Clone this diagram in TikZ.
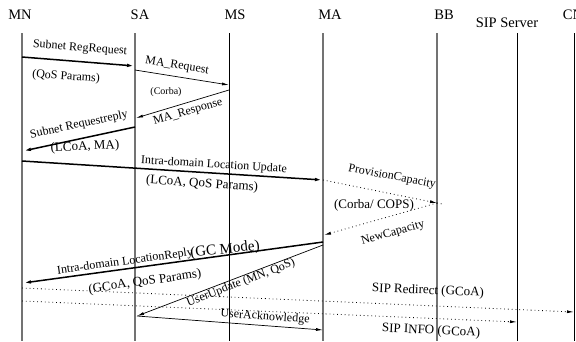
\documentclass[tikz,border=0pt]{standalone}
\usepackage{fontspec}
\setmainfont{Liberation Serif}
\usetikzlibrary{arrows.meta}
\begin{document}
\begin{tikzpicture}[x=1pt,y=-1pt,
  hdr/.style={font=\fontsize{14.5}{16}\selectfont, inner sep=0pt},
  lbl/.style={font=\fontsize{12}{13}\selectfont, inner sep=0pt},
  midlbl/.style={font=\fontsize{13}{14}\selectfont, inner sep=0pt},
  smalllbl/.style={font=\fontsize{10}{11}\selectfont, inner sep=0pt},
  biglbl/.style={font=\fontsize{15}{16}\selectfont, inner sep=0pt},
  lifeg/.style={draw=black!55, line width=1.1pt},
  lifeb/.style={draw=black, line width=0.8pt},
  thickmsg/.style={line width=1.5pt, -{Latex[length=8pt,width=3.5pt]}},
  thinmsg/.style={line width=0.7pt, -{Latex[length=7pt,width=3pt]}},
  dotmsg/.style={line width=0.8pt, dash pattern=on 0.8pt off 3pt, -{Latex[length=7pt,width=3pt]}}]
\useasboundingbox (0,0) rectangle (576,341);
\fill[white] (0,0) rectangle (576,341);
% headers
\node[hdr] (hMN) at (20,15) {MN};
\node[hdr] (hSA) at (140,15) {SA};
\node[hdr] (hMS) at (235,15) {MS};
\node[hdr] (hMA) at (330,15) {MA};
\node[hdr] (hBB) at (444,15) {BB};
\node[hdr] (hSIP) at (507,23) {SIP Server};
\node[hdr] (hCN) at (573,15) {CN};
% lifelines
\coordinate (tMN) at (22,33);  \coordinate (bMN) at (22,341);
\coordinate (tSA) at (135,33); \coordinate (bSA) at (135,341);
\coordinate (tMS) at (229,33); \coordinate (bMS) at (229,341);
\coordinate (tMA) at (323,33); \coordinate (bMA) at (323,341);
\coordinate (tBB) at (437,33); \coordinate (bBB) at (437,341);
\coordinate (tSIP) at (517,33); \coordinate (bSIP) at (517,341);
\coordinate (tCN) at (574,33); \coordinate (bCN) at (574,341);
\draw[lifeg] (tMN) -- (bMN);
\draw[lifeg] (tSA) -- (bSA);
\draw[lifeb] (tMS) -- (bMS);
\draw[lifeg] (tMA) -- (bMA);
\draw[lifeg] (tBB) -- (bBB);
\draw[lifeb] (tSIP) -- (bSIP);
\draw[lifeb] (tCN) -- (bCN);
% message endpoints
\coordinate (a1) at (22,57);   \coordinate (b1) at (135,66);
\coordinate (a2) at (135,70);  \coordinate (b2) at (229,85);
\coordinate (a3) at (229,90);  \coordinate (b3) at (136,118);
\coordinate (a4) at (135,127); \coordinate (b4) at (23,151);
\coordinate (a5) at (22,161);  \coordinate (b5) at (323,180);
\coordinate (a6) at (323,180); \coordinate (b6) at (437,203);
\coordinate (c6) at (442,204);
\coordinate (a7) at (437,203); \coordinate (b7) at (324,235);
\coordinate (a8) at (323,242); \coordinate (b8) at (23,283);
\coordinate (a9) at (22,288);  \coordinate (b9) at (574,312);
\coordinate (a10) at (22,301); \coordinate (b10) at (517,322);
\coordinate (a11) at (323,245); \coordinate (b11) at (137,316);
\coordinate (a12) at (137,316); \coordinate (b12) at (323,330);
% messages
\draw[thickmsg] (a1) -- (b1);
\draw[thinmsg] (a2) -- (b2);
\draw[thinmsg] (a3) -- (b3);
\draw[thickmsg] (a4) -- (b4);
\draw[thickmsg] (a5) -- (b5);
\draw[dotmsg] (a6) -- (b6);
\draw[line width=0.8pt, dash pattern=on 0.8pt off 3pt] (b6) -- (c6);
\draw[dotmsg] (a7) -- (b7);
\draw[thickmsg] (a8) -- (b8);
\draw[dotmsg] (a9) -- (b9);
\draw[dotmsg] (a10) -- (b10);
\draw[thinmsg] (a11) -- (b11);
\draw[thinmsg] (a12) -- (b12);
% labels
\node[lbl, rotate=-4.5] (l1) at (80,48) {Subnet RegRequest};
\node[lbl, rotate=-4] (l1b) at (66,77) {(QoS Params)};
\node[lbl, rotate=-9] (l2) at (177,66) {MA\_Request};
\node[smalllbl] (l2b) at (166,92) {(Corba)};
\node[lbl, rotate=16] (l3) at (188,112) {MA\_Response};
\node[lbl, rotate=12] (l4) at (79,125) {Subnet Requestreply};
\node[midlbl, rotate=3] (l4b) at (85,147) {(LCoA, MA)};
\node[lbl, rotate=-3.5] (l5) at (214,165) {Intra-domain Location Update};
\node[midlbl, rotate=-4] (l5b) at (202,184) {(LCoA, QoS Params)};
\node[lbl, rotate=-11] (l6) at (392,177) {ProvisionCapacity};
\node[midlbl] (l6b) at (374,205) {(Corba/ COPS)};
\node[lbl, rotate=16] (l7) at (393,233) {NewCapacity};
\node[lbl, rotate=8] (l8) at (125,262) {Intra-domain LocationReply};
\node[biglbl, rotate=6] (l8a) at (225,250) {(GC Mode)};
\node[midlbl, rotate=8] (l8b) at (145,282) {(GCoA, QoS Params)};
\node[midlbl, rotate=-2.5] (l9) at (428,291) {SIP Redirect (GCoA)};
\node[midlbl, rotate=-2.5] (l10) at (431,331) {SIP INFO (GCoA)};
\node[lbl, rotate=21] (l11) at (241,283) {UserUpdate (MN, QoS)};
\node[lbl, rotate=-4] (l12) at (265,317) {UserAcknowledge};
\end{tikzpicture}
\end{document}
